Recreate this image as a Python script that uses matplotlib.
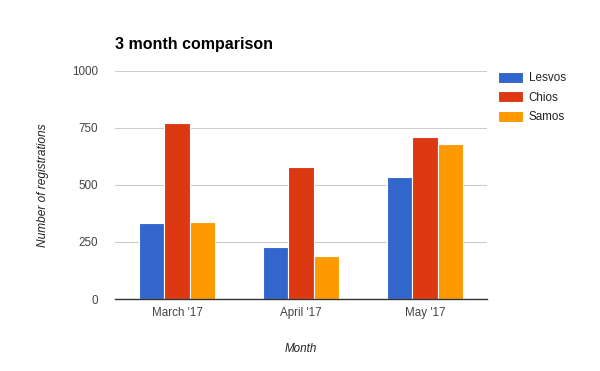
import matplotlib
matplotlib.use("Agg")
import matplotlib.pyplot as plt
import numpy as np

months = ["March '17", "April '17", "May '17"]
series_names = ["Lesvos", "Chios", "Samos"]
lesvos = [334, 228, 533]
chios = [773, 581, 712]
samos = [338, 189, 678]
colors = ["#3366cc", "#dc3912", "#ff9900"]
yticks = [0, 250, 500, 750, 1000]

plt.rcParams['font.family'] = ['Liberation Sans', 'DejaVu Sans']

fig = plt.figure(figsize=(6, 3.71), dpi=100)
ax = fig.add_axes([115/600, 1-299/371, 372/600, 228/371])

x = np.arange(len(months))
w = 0.205
for i, (vals, name, c) in enumerate(zip([lesvos, chios, samos], series_names, colors)):
    ax.bar(x + (i-1)*w, vals, width=w, color=c, edgecolor="white", linewidth=0.8, label=name, zorder=3)

ax.set_xlim(-0.5, 2.5)
ax.set_ylim(0, 1000)
ax.set_yticks(yticks)
ax.set_yticklabels([str(v) for v in yticks])
ax.set_xticks(x)
ax.set_xticklabels(months)
ax.yaxis.grid(True, color="#cccccc", linewidth=0.8, zorder=0)
for s in ["top", "right", "left"]:
    ax.spines[s].set_visible(False)
ax.spines["bottom"].set_color("#333333")
ax.spines["bottom"].set_linewidth(1.0)
ax.spines["bottom"].set_zorder(4)
ax.tick_params(axis="both", length=0, labelsize=8.4, labelcolor="#444444")
ax.tick_params(axis="y", pad=12)
ax.tick_params(axis="x", pad=6)

ax.set_xlabel("Month", fontstyle="italic", fontsize=8.4, color="#222222", labelpad=17)
ax.set_ylabel("Number of registrations", fontstyle="italic", fontsize=8.6, color="#222222", labelpad=17)

fig.text(115/600, 1-45/371, "3 month comparison", fontsize=11.5, fontweight="bold", color="#000000", va="center", ha="left")

leg = ax.legend(loc="upper left", bbox_to_anchor=((493-115)/372, 1.0 + 4/228), frameon=False,
                fontsize=8.4, handlelength=2.2, handleheight=1.1, labelspacing=0.6, handletextpad=0.45,
                borderaxespad=0, labelcolor="#222222")

fig.savefig("out.png", dpi=100)
